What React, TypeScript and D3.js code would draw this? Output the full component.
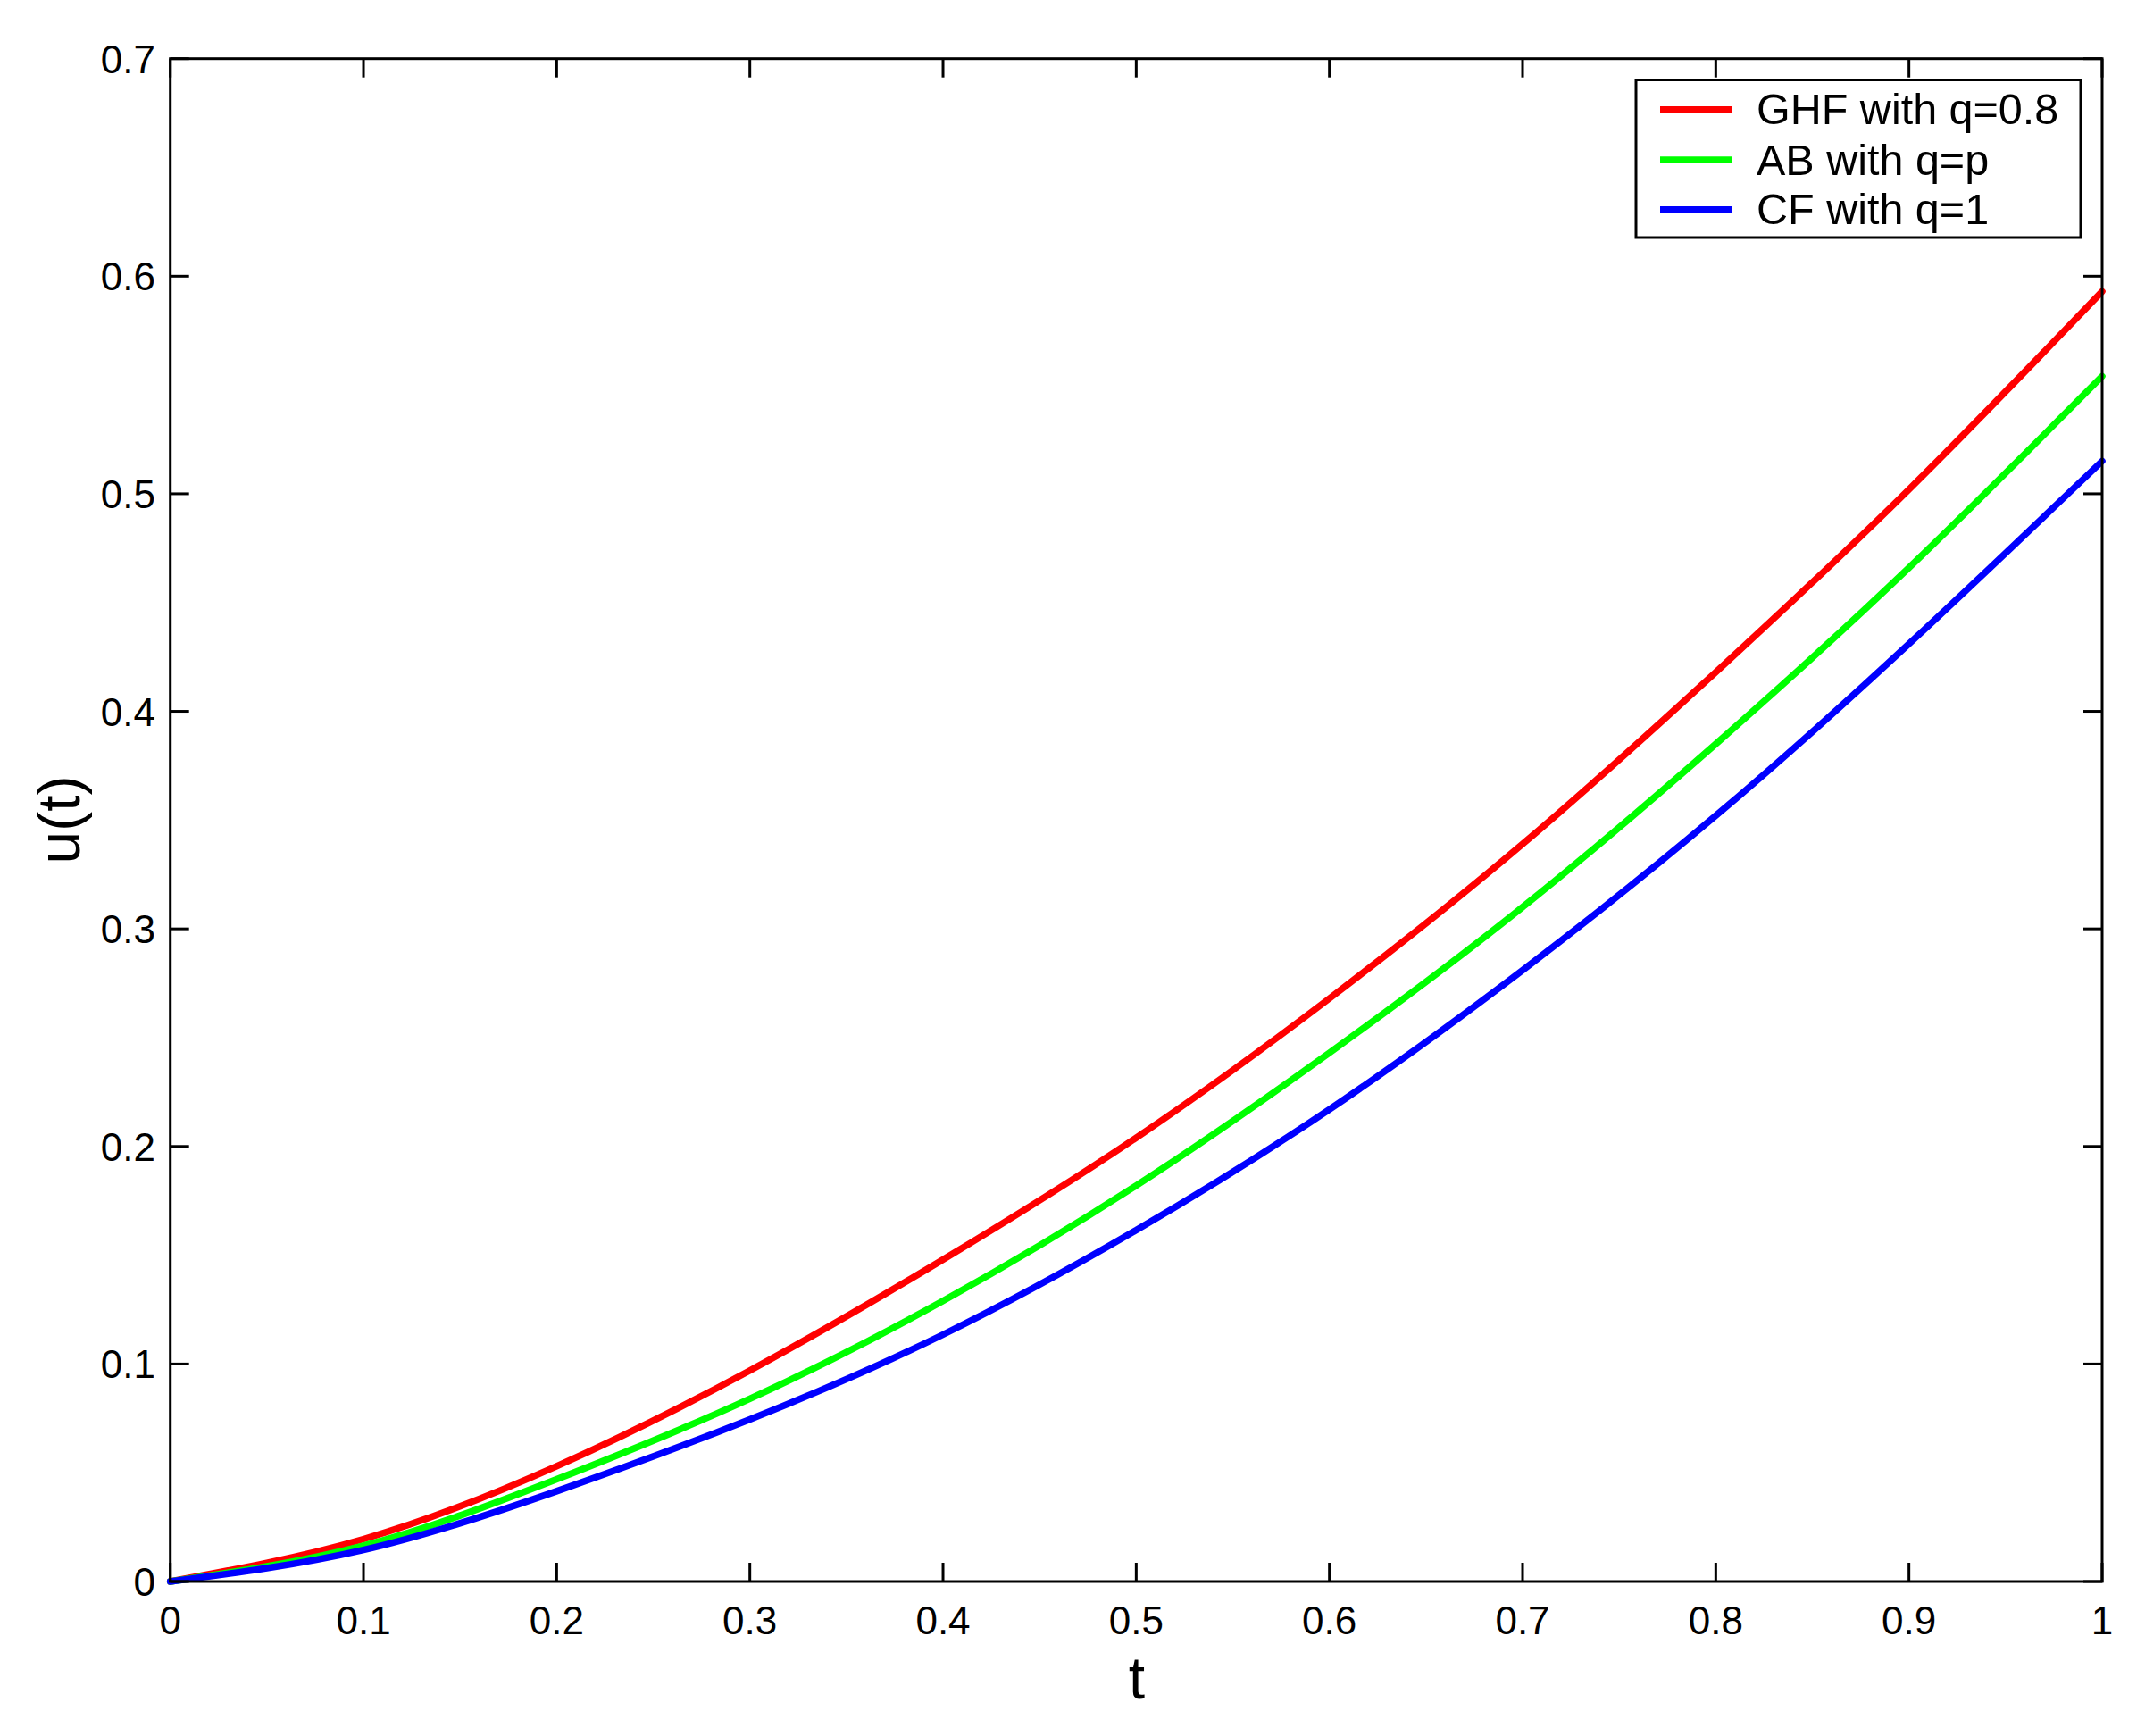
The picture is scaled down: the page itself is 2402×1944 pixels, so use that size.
import React, { useEffect, useRef } from "react";
import * as d3 from "d3";

const tValues = [0, 0.1, 0.2, 0.3, 0.4, 0.5, 0.6, 0.7, 0.8, 0.9, 1.0];
const ghfValues = [0, 0.0195, 0.053, 0.097, 0.148, 0.204, 0.268, 0.339, 0.418, 0.502, 0.593];
const abValues = [0, 0.0165, 0.047, 0.084, 0.129, 0.182, 0.243, 0.310, 0.385, 0.466, 0.554];
const cfValues = [0, 0.0145, 0.0415, 0.0745, 0.1135, 0.1615, 0.217, 0.281, 0.352, 0.431, 0.515];

const seriesNames = ["GHF with q=0.8", "AB with q=p", "CF with q=1"];
const seriesColors = ["#ff0000", "#00ff00", "#0000ff"];
const xTicks = [0, 0.1, 0.2, 0.3, 0.4, 0.5, 0.6, 0.7, 0.8, 0.9, 1];
const yTicks = [0, 0.1, 0.2, 0.3, 0.4, 0.5, 0.6, 0.7];

const W = 2402;
const H = 1944;
const L = 190.7, R = 2354, T = 65.7, B = 1771;
const FONT = "'Liberation Sans', Arial, Helvetica, sans-serif";

export default function App() {
  const ref = useRef<SVGSVGElement>(null);
  useEffect(() => {
    const svg = d3.select(ref.current);
    svg.selectAll("*").remove();
    const x = d3.scaleLinear().domain([0, 1]).range([L, R]);
    const y = d3.scaleLinear().domain([0, 0.7]).range([B, T]);

    const all = [ghfValues, abValues, cfValues];
    const line = d3
      .line<number>()
      .x((_, i) => x(tValues[i]))
      .y((d) => y(d))
      .curve(d3.curveNatural);

    const g = svg.append("g");
    all.forEach((vals, k) => {
      g.append("path")
        .attr("d", line(vals) as string)
        .attr("fill", "none")
        .attr("stroke", seriesColors[k])
        .attr("stroke-width", 7.5)
        .attr("stroke-linecap", "round");
    });

    svg
      .append("rect")
      .attr("x", L)
      .attr("y", T)
      .attr("width", R - L)
      .attr("height", B - T)
      .attr("fill", "none")
      .attr("stroke", "#000")
      .attr("stroke-width", 3);

    const tickLen = 21;
    xTicks.forEach((v) => {
      const px = x(v);
      svg.append("line").attr("x1", px).attr("x2", px).attr("y1", B).attr("y2", B - tickLen).attr("stroke", "#000").attr("stroke-width", 3);
      svg.append("line").attr("x1", px).attr("x2", px).attr("y1", T).attr("y2", T + tickLen).attr("stroke", "#000").attr("stroke-width", 3);
      svg
        .append("text")
        .attr("x", px)
        .attr("y", 1830)
        .attr("text-anchor", "middle")
        .attr("font-family", FONT)
        .attr("font-size", 44)
        .text(d3.format("~g")(v));
    });
    yTicks.forEach((v) => {
      const py = y(v);
      svg.append("line").attr("x1", L).attr("x2", L + tickLen).attr("y1", py).attr("y2", py).attr("stroke", "#000").attr("stroke-width", 3);
      svg.append("line").attr("x1", R).attr("x2", R - tickLen).attr("y1", py).attr("y2", py).attr("stroke", "#000").attr("stroke-width", 3);
      svg
        .append("text")
        .attr("x", 174)
        .attr("y", py + 16)
        .attr("text-anchor", "end")
        .attr("font-family", FONT)
        .attr("font-size", 44)
        .text(d3.format("~g")(v));
    });

    svg
      .append("text")
      .attr("x", 1273)
      .attr("y", 1902)
      .attr("text-anchor", "middle")
      .attr("font-family", FONT)
      .attr("font-size", 66)
      .text("t");
    svg
      .append("text")
      .attr("transform", "translate(89,918) rotate(-90)")
      .attr("text-anchor", "middle")
      .attr("font-family", FONT)
      .attr("font-size", 66)
      .text("u(t)");

    // legend
    svg
      .append("rect")
      .attr("x", 1832)
      .attr("y", 89.5)
      .attr("width", 498)
      .attr("height", 176.5)
      .attr("fill", "#fff")
      .attr("stroke", "#000")
      .attr("stroke-width", 3);
    const rowY = [122.7, 179, 234.7];
    seriesNames.forEach((name, k) => {
      svg
        .append("line")
        .attr("x1", 1859)
        .attr("x2", 1940)
        .attr("y1", rowY[k])
        .attr("y2", rowY[k])
        .attr("stroke", seriesColors[k])
        .attr("stroke-width", 7.5);
      svg
        .append("text")
        .attr("x", 1967)
        .attr("y", rowY[k] + 16.6)
        .attr("font-family", FONT)
        .attr("font-size", 48.5)
        .text(name);
    });
  }, []);

  return (
    <svg
      ref={ref}
      width={W}
      height={H}
      style={{ position: "absolute", left: 0, top: 0, background: "#fff" }}
    />
  );
}
